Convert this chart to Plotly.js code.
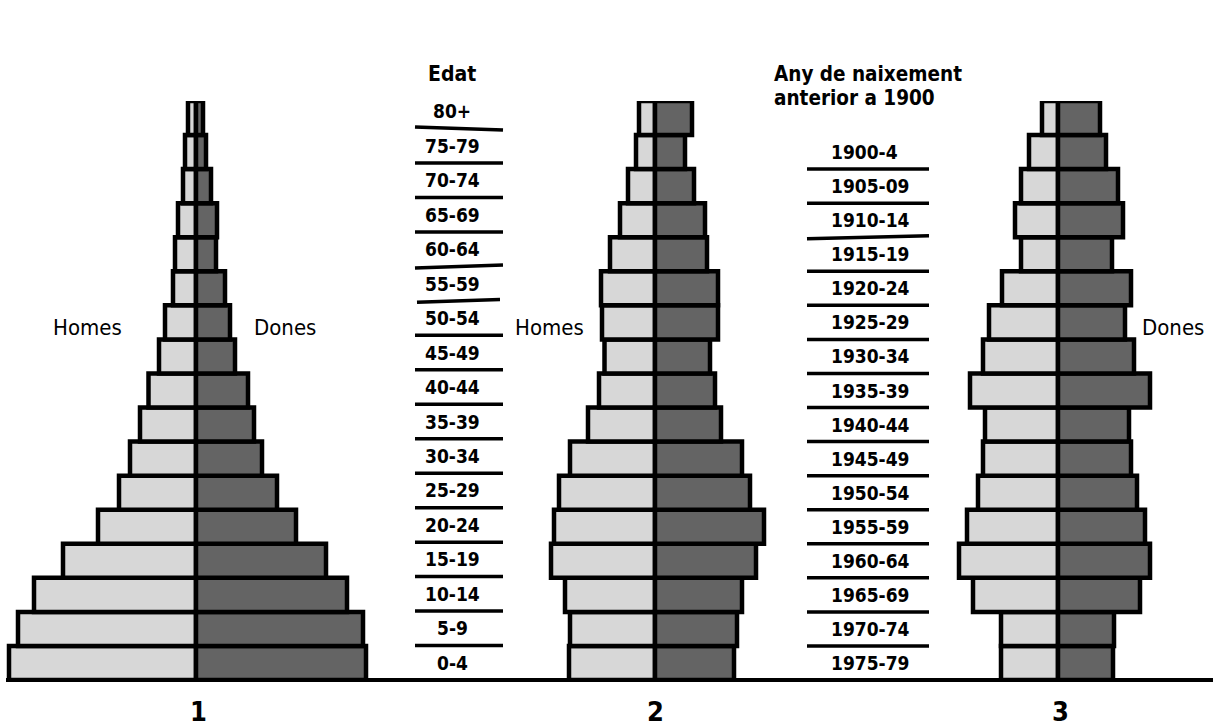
<!DOCTYPE html>
<html>
<head>
<meta charset="utf-8">
<script src="https://cdn.plot.ly/plotly-3.0.1.min.js"></script>
<style>
  html, body { margin: 0; padding: 0; background: #ffffff; }
  #chart { width: 1213px; height: 728px; }
</style>
</head>
<body>
<div id="chart"></div>
<script>
// ---------------- DATA (bottom row first) ----------------
const ageGroups = ['0-4','5-9','10-14','15-19','20-24','25-29','30-34','35-39','40-44',
                   '45-49','50-54','55-59','60-64','65-69','70-74','75-79','80+'];
const birthCohorts = ['1975-79','1970-74','1965-69','1960-64','1955-59','1950-54','1945-49',
                      '1940-44','1935-39','1930-34','1925-29','1920-24','1915-19','1910-14',
                      '1905-09','1900-4','anterior a 1900'];

// Pyramid 1
const homes1 = [18.7, 17.8, 16.2, 13.3, 9.8, 7.7, 6.6, 5.6, 4.75, 3.7, 3.1, 2.3, 2.1, 1.8, 1.3, 1.1, 0.8];
const dones1 = [17.0, 16.7, 15.1, 13.0, 10.0, 8.1, 6.6, 5.8, 5.2, 3.9, 3.4, 2.9, 2.0, 2.1, 1.5, 1.0, 0.7];
// Pyramid 2
const homes2 = [8.6, 8.5, 9.0, 10.4, 10.1, 9.6, 8.5, 6.7, 5.6, 5.05, 5.3, 5.4, 4.5, 3.5, 2.7, 1.9, 1.6];
const dones2 = [7.9, 8.2, 8.7, 10.1, 10.9, 9.5, 8.7, 6.6, 6.0, 5.5, 6.3, 6.3, 5.2, 5.0, 3.9, 3.0, 3.7];
// Pyramid 3
const homes3 = [5.7, 5.7, 8.5, 9.9, 9.1, 8.0, 7.5, 7.3, 8.8, 7.5, 6.9, 5.6, 3.7, 4.3, 3.7, 2.9, 1.6];
const dones3 = [5.5, 5.6, 8.2, 9.2, 8.7, 7.9, 7.3, 7.1, 9.2, 7.6, 6.7, 7.3, 5.4, 6.5, 6.0, 4.8, 4.2];

const pyramidNames = ['1', '2', '3'];
const sexLabels = ['Homes', 'Dones'];
const ageTitle = 'Edat';
const birthTitle = ['Any de naixement', 'anterior a 1900'];

// ---------------- STYLE ----------------
const W = 1213, H = 728;
const LIGHT = '#d7d7d7', DARK = '#646464';
const NARROW = '"DejaVu Sans Condensed", "Liberation Sans Narrow", sans-serif';
const rows = ageGroups.map((_, i) => i);

function barPair(h, d, xa) {
  const common = {type: 'bar', orientation: 'h', y: rows, width: 1, xaxis: xa, yaxis: 'y',
                  cliponaxis: false, hoverinfo: 'skip', showlegend: false};
  return [
    Object.assign({}, common, {x: h.map(v => -v), marker: {color: LIGHT, line: {color: '#000', width: 4.5}}}),
    Object.assign({}, common, {x: d, marker: {color: DARK, line: {color: '#000', width: 4.5}}})
  ];
}

const data = [].concat(
  barPair(homes1, dones1, 'x'),
  barPair(homes2, dones2, 'x2'),
  barPair(homes3, dones3, 'x3')
);

const px = v => v / W;
const py = v => (H - v) / H;

// separator lines in the label columns
const shapes = [];
const ageTilt = {15: 0.045, 11: -0.045, 10: -0.04};
for (let k = 0; k < ageGroups.length - 1; k++) {
  const t = ageTilt[k] || 0;
  let x0 = px(415), x1 = px(503);
  if (k === 10) { x0 = px(417); x1 = px(500); }
  shapes.push({type: 'line', xref: 'paper', yref: 'y2', x0: x0, x1: x1,
               y0: k + 0.5 + t, y1: k + 0.5 - t, line: {color: '#000', width: 3.5}});
}
const birthTilt = {12: -0.045};
for (let k = 0; k < birthCohorts.length - 2; k++) {
  const t = birthTilt[k] || 0;
  shapes.push({type: 'line', xref: 'paper', yref: 'y', x0: px(807), x1: px(929),
               y0: k + 0.5 + t, y1: k + 0.5 - t, line: {color: '#000', width: 3.5}});
}
// baseline
shapes.push({type: 'line', xref: 'paper', yref: 'paper', x0: px(6), x1: 1, y0: py(680), y1: py(680),
             line: {color: '#000', width: 4}});

const annotations = [];
ageGroups.forEach((g, i) => annotations.push({
  text: g, xref: 'paper', yref: 'y2', x: px(452), y: i, xanchor: 'center', yanchor: 'middle',
  showarrow: false, font: {family: NARROW, size: 19, color: '#000', weight: 'bold'}
}));
birthCohorts.slice(0, birthCohorts.length - 1).forEach((g, i) => annotations.push({
  text: g, xref: 'paper', yref: 'y', x: px(829), y: i, xanchor: 'left', yanchor: 'middle',
  showarrow: false, font: {family: NARROW, size: 19, color: '#000', weight: 'bold'}
}));
annotations.push({text: ageTitle, xref: 'paper', yref: 'paper', x: px(452), y: py(74), xanchor: 'center',
  yanchor: 'middle', showarrow: false, font: {family: NARROW, size: 21, color: '#000', weight: 'bold'}});
annotations.push({text: birthTitle[0], xref: 'paper', yref: 'paper', x: px(772), y: py(74), xanchor: 'left',
  yanchor: 'middle', showarrow: false, font: {family: NARROW, size: 20.5, color: '#000', weight: 'bold'}});
annotations.push({text: birthTitle[1], xref: 'paper', yref: 'paper', x: px(772), y: py(98), xanchor: 'left',
  yanchor: 'middle', showarrow: false, font: {family: NARROW, size: 20.5, color: '#000', weight: 'bold'}});

const sexPos = [[sexLabels[0], 87.5], [sexLabels[1], 284.5], [sexLabels[0], 549], [sexLabels[1], 1172.5]];
sexPos.forEach(([t, x]) => annotations.push({
  text: t, xref: 'paper', yref: 'paper', x: px(x), y: py(328), xanchor: 'center', yanchor: 'middle',
  showarrow: false, font: {family: NARROW, size: 22, color: '#000'}
}));
const numPos = [198.5, 655, 1060];
pyramidNames.forEach((n, i) => annotations.push({
  text: n, xref: 'paper', yref: 'paper', x: px(numPos[i]), y: py(711), xanchor: 'center', yanchor: 'middle',
  showarrow: false, font: {family: NARROW, size: 27, color: '#000', weight: 'bold'}
}));

const yDom = [48 / H, 627 / H];
const layout = {
  width: W, height: H, margin: {l: 0, r: 0, t: 0, b: 0, pad: 0},
  paper_bgcolor: '#fff', plot_bgcolor: 'rgba(0,0,0,0)',
  barmode: 'overlay', bargap: 0, showlegend: false,
  xaxis:  {domain: [0, px(400)], range: [-19.6, 20.4], visible: false, fixedrange: true},
  xaxis2: {domain: [px(410), px(890)], range: [-24.5, 23.5], anchor: 'y', visible: false, fixedrange: true},
  xaxis3: {domain: [px(900), 1], range: [-15.8, 15.5], anchor: 'y', visible: false, fixedrange: true},
  yaxis:  {domain: yDom, range: [-0.5, 16.5], visible: false, fixedrange: true},
  yaxis2: {domain: yDom, range: [-0.5, 16.3], overlaying: 'y', anchor: 'x', visible: false, fixedrange: true},
  shapes: shapes, annotations: annotations
};

Plotly.newPlot('chart', data, layout, {staticPlot: true, displayModeBar: false});
</script>
</body>
</html>
